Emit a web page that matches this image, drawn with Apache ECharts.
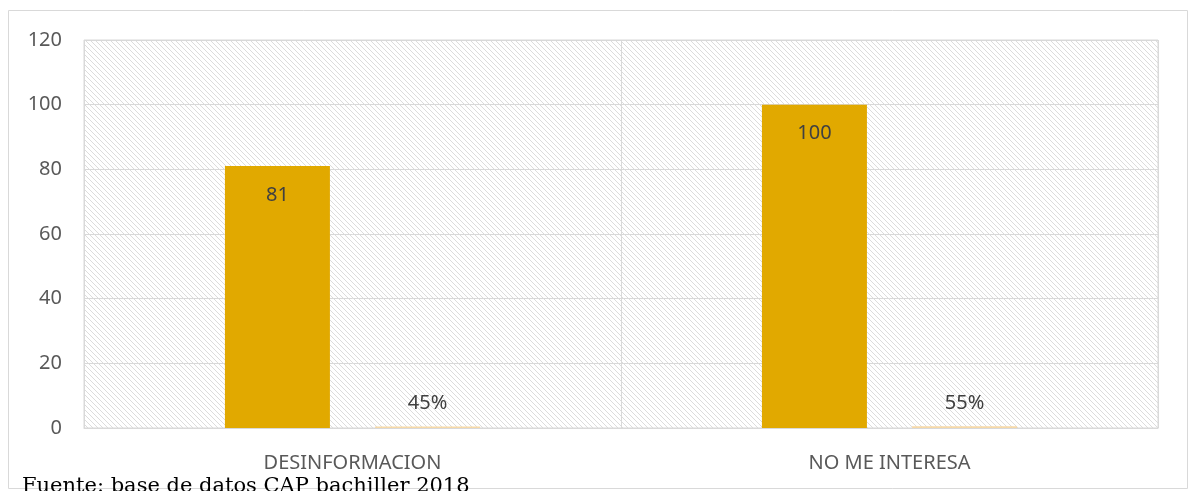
<!DOCTYPE html>
<html>
<head>
<meta charset="utf-8">
<script src="https://cdn.jsdelivr.net/npm/echarts@6/dist/echarts.min.js"></script>
<style>
  html, body { margin: 0; padding: 0; background: #fff; }
  #chart { width: 1190px; height: 491px; }
</style>
</head>
<body>
<div id="chart"></div>
<script>
const categories = ['DESINFORMACION', 'NO ME INTERESA'];
const counts = [81, 100];
const shares = [0.45, 0.55];
const yTicks = { min: 0, max: 120, interval: 20 };

// diagonal hatch used as the plot background
function hatch() {
  const c = document.createElement('canvas');
  c.width = 5;
  c.height = 5;
  const ctx = c.getContext('2d');
  ctx.fillStyle = '#fff';
  ctx.fillRect(0, 0, 5, 5);
  ctx.fillStyle = '#dcdcdc';
  for (let i = 0; i < 5; i++) {
    ctx.fillRect(i, i, 1, 1);
  }
  return c;
}

const font = '"Noto Sans", "Open Sans", sans-serif';
const chart = echarts.init(document.getElementById('chart'));

chart.setOption({
  animation: false,
  grid: {
    left: 84, right: 32, top: 40, bottom: 63,
    show: true,
    backgroundColor: { image: hatch(), repeat: 'repeat' },
    borderColor: '#d9d9d9',
    borderWidth: 1,
  },
  xAxis: {
    type: 'category',
    data: categories,
    axisLine: { lineStyle: { color: '#d9d9d9' } },
    axisTick: { show: false },
    splitLine: { show: true, lineStyle: { color: '#d9d9d9' } },
    axisLabel: { color: '#595959', fontSize: 20, fontFamily: font, margin: 25 },
  },
  yAxis: {
    type: 'value',
    min: yTicks.min,
    max: yTicks.max,
    interval: yTicks.interval,
    axisLine: { show: false },
    axisTick: { show: false },
    splitLine: { lineStyle: { color: '#d9d9d9' } },
    axisLabel: { color: '#595959', fontSize: 20, fontFamily: font, margin: 22 },
  },
  series: [
    {
      type: 'bar',
      data: counts,
      barWidth: 105,
      barGap: '43%',
      itemStyle: { color: '#e1a900' },
      label: {
        show: true,
        position: 'insideTop',
        distance: 19,
        color: '#404040',
        fontSize: 20,
        fontFamily: font,
      },
    },
    {
      type: 'bar',
      data: shares,
      barWidth: 105,
      itemStyle: { color: '#f6d9a8' },
      label: {
        show: true,
        position: 'top',
        distance: 13,
        color: '#404040',
        fontSize: 20,
        fontFamily: font,
        formatter: p => Math.round(p.value * 100) + '%',
      },
    },
  ],
  graphic: [
    {
      type: 'rect',
      shape: { x: 8.5, y: 10.5, width: 1179, height: 478 },
      style: { fill: null, stroke: '#d9d9d9', lineWidth: 1 },
      z: -1,
    },
    {
      type: 'text',
      left: 22,
      top: 476,
      style: {
        text: 'Fuente: base de datos CAP bachiller 2018',
        fill: '#000',
        font: '21px "DejaVu Serif", "Liberation Serif", serif',
      },
    },
  ],
});
</script>
</body>
</html>
